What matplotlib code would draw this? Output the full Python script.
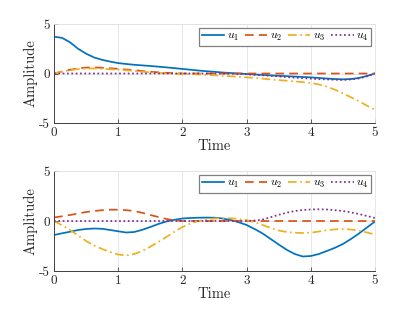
import matplotlib
matplotlib.use("Agg")
import matplotlib.pyplot as plt
import numpy as np

t = np.linspace(0, 5, 41)

top_u1 = [3.72, 3.6, 3.15, 2.5, 2.0, 1.62, 1.38, 1.2, 1.05, 0.96, 0.88, 0.82, 0.76, 0.69,
          0.62, 0.54, 0.46, 0.38, 0.3, 0.23, 0.17, 0.1, 0.05, 0.0, -0.05, -0.1, -0.14,
          -0.19, -0.23, -0.27, -0.31, -0.35, -0.39, -0.45, -0.51, -0.56, -0.59, -0.56,
          -0.45, -0.25, 0.0]
top_u2 = [0.0, 0.2, 0.38, 0.52, 0.6, 0.62, 0.58, 0.53, 0.47, 0.4, 0.33, 0.25, 0.18, 0.12,
          0.07, 0.03, 0.0] + [0.0] * 24
top_u3 = [0.0, 0.18, 0.33, 0.45, 0.5, 0.51, 0.48, 0.43, 0.38, 0.32, 0.25, 0.18, 0.12, 0.06,
          0.02, -0.02, -0.05, -0.07, -0.1, -0.14, -0.18, -0.23, -0.28, -0.33, -0.39,
          -0.45, -0.52, -0.6, -0.67, -0.73, -0.8, -0.87, -0.95, -1.1, -1.33, -1.63,
          -2.0, -2.4, -2.8, -3.25, -3.65]
top_u4 = [0.0] * 21 + [-0.01, -0.03, -0.05, -0.08, -0.13, -0.18, -0.24, -0.3, -0.36,
                       -0.42, -0.47, -0.52, -0.57, -0.6, -0.63, -0.65, -0.6, -0.5,
                       -0.28, 0.0]

bot_u1 = [-1.4, -1.23, -1.07, -0.9, -0.8, -0.75, -0.78, -0.9, -1.03, -1.15, -1.1, -0.88,
          -0.6, -0.3, -0.05, 0.12, 0.25, 0.3, 0.33, 0.34, 0.33, 0.25, 0.1, -0.12, -0.4,
          -0.8, -1.25, -1.8, -2.35, -2.88, -3.3, -3.55, -3.5, -3.3, -3.0, -2.68, -2.3,
          -1.8, -1.25, -0.65, -0.05]
bot_u2 = [0.35, 0.47, 0.6, 0.75, 0.9, 1.0, 1.08, 1.13, 1.13, 1.08, 1.0, 0.82, 0.6, 0.4,
          0.2, 0.07, 0.0] + [0.0] * 24
bot_u3 = [0.0, -0.42, -0.9, -1.45, -2.0, -2.45, -2.8, -3.1, -3.35, -3.45, -3.3, -3.0,
          -2.57, -2.1, -1.6, -1.08, -0.6, -0.25, 0.0, 0.17, 0.25, 0.28, 0.27, 0.2, 0.1,
          -0.12, -0.4, -0.7, -0.95, -1.1, -1.17, -1.2, -1.17, -1.05, -0.92, -0.84, -0.8,
          -0.85, -0.97, -1.15, -1.35]
bot_u4 = [0.0] * 25 + [0.04, 0.15, 0.38, 0.62, 0.83, 1.0, 1.1, 1.15, 1.17, 1.15, 1.08,
                       1.0, 0.86, 0.7, 0.5, 0.3]

labels = [r"$u_1$", r"$u_2$", r"$u_3$", r"$u_4$"]
xticks = [0, 1, 2, 3, 4, 5]
yticks = [-5, 0, 5]

colors = ["#0072BD", "#D95319", "#EDB120", "#7E2F8E"]
styles = ["-", (0, (5, 3)), (0, (5, 2, 1, 2)), (0, (1, 1.5))]

plt.rcParams['font.family'] = 'serif'
plt.rcParams['font.serif'] = ['cmr10', 'DejaVu Serif']
plt.rcParams['mathtext.fontset'] = 'cm'
plt.rcParams['axes.unicode_minus'] = False
plt.rcParams['axes.formatter.use_mathtext'] = False

fig = plt.figure(figsize=(4.15, 3.12), dpi=100)
ax1 = fig.add_axes([54/415, 1-123/312, 321/415, 99/312])
ax2 = fig.add_axes([54/415, 1-271/312, 321/415, 100/312])

for ax, series in [(ax1, [top_u1, top_u2, top_u3, top_u4]),
                   (ax2, [bot_u1, bot_u2, bot_u3, bot_u4])]:
    for y, c, ls, lab in zip(series, colors, styles, labels):
        ax.plot(t, y, color=c, linestyle=ls, linewidth=1.25, label=lab)
    ax.set_xlim(0, 5)
    ax.set_ylim(-5, 5)
    ax.set_xticks(xticks)
    ax.set_yticks(yticks)
    ax.set_yticklabels([str(v) for v in yticks])
    ax.grid(True, color='#e3e3e3', linewidth=0.6)
    ax.set_axisbelow(True)
    for s in ['top', 'right']:
        ax.spines[s].set_color('#e3e3e3')
        ax.spines[s].set_linewidth(0.6)
    for s in ['left', 'bottom']:
        ax.spines[s].set_color('#404040')
        ax.spines[s].set_linewidth(0.7)
    ax.tick_params(direction='in', length=3, width=0.6, color='#404040',
                   labelsize=9.5, labelcolor='#262626', pad=3)
    ax.set_xlabel("Time", fontsize=10.5, color='#262626', labelpad=0)
    ax.set_ylabel("Amplitude", fontsize=10.5, color='#262626', labelpad=1)
    leg = ax.legend(loc='upper right', ncol=4, fontsize=8.5, handlelength=1.9,
                    handletextpad=0.2, columnspacing=0.5, borderpad=0.25,
                    borderaxespad=0.3, fancybox=False, framealpha=1,
                    edgecolor='#808080')
    leg.get_frame().set_linewidth(0.9)

fig.savefig("out.png", dpi=100)
